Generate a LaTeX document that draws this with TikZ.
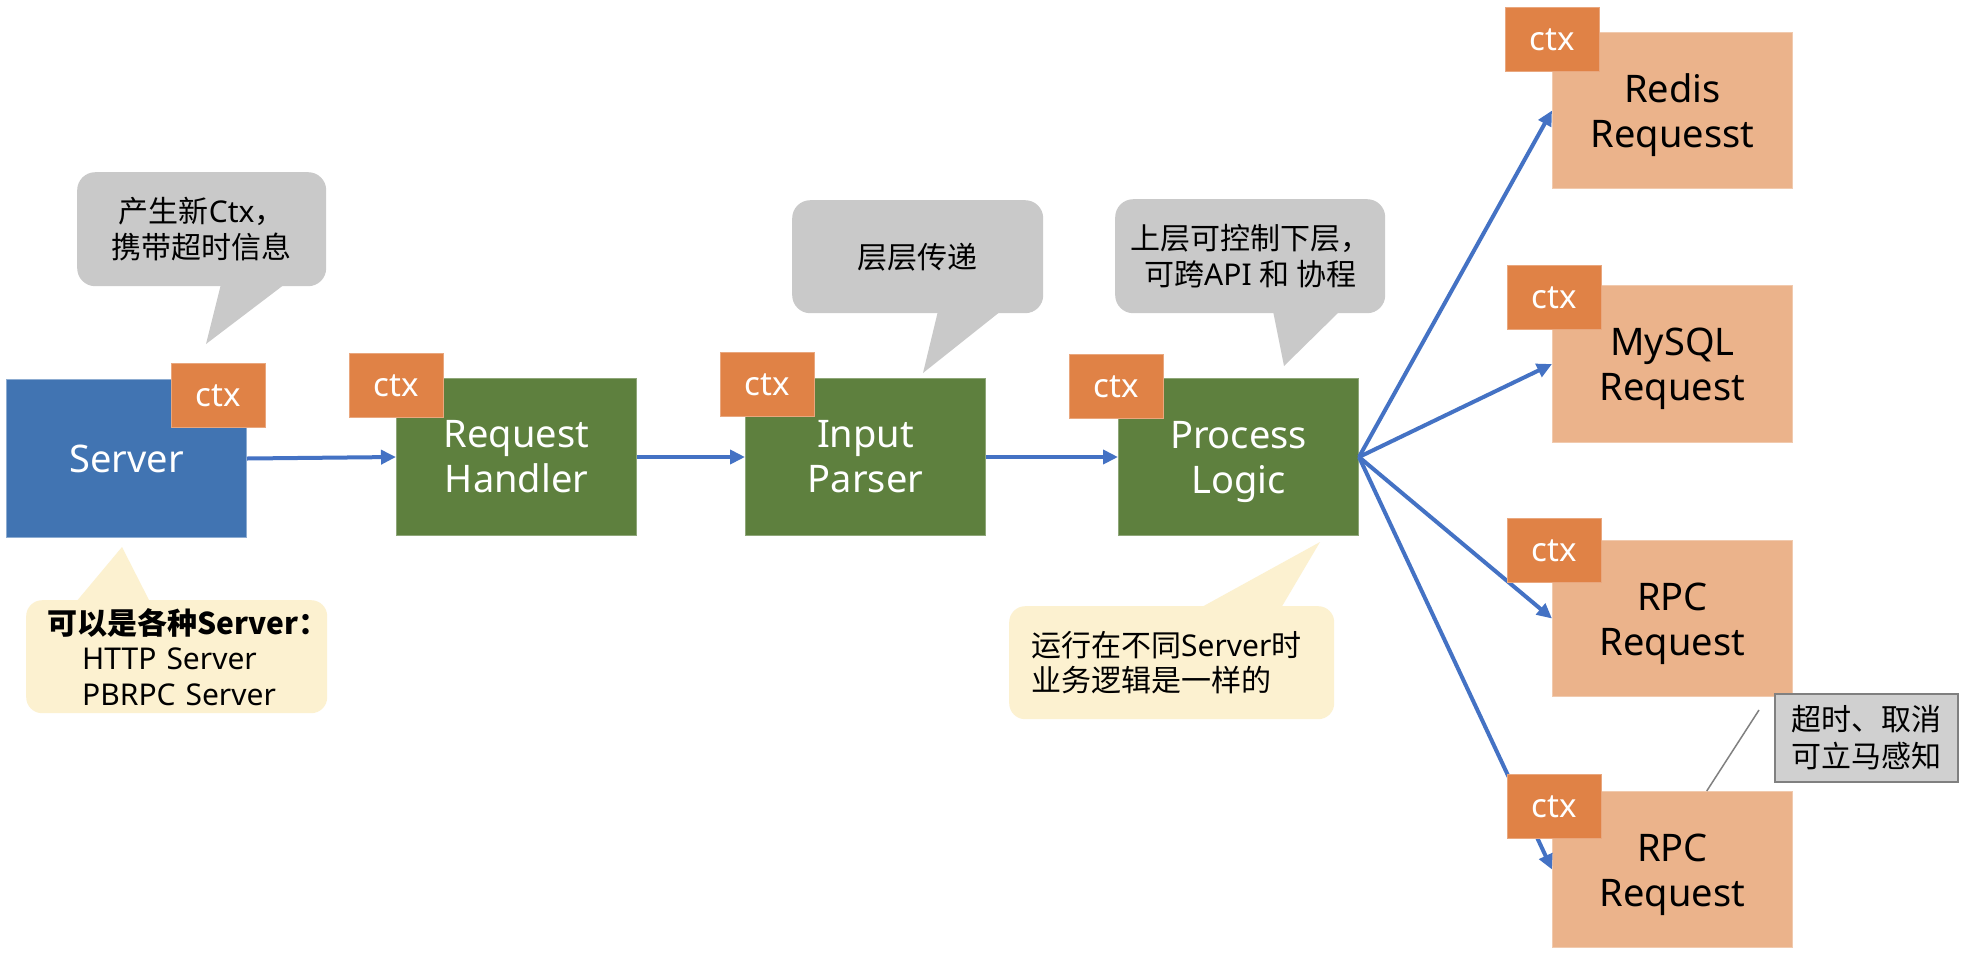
\documentclass[tikz,border=0pt]{standalone}
\usepackage{fontspec}
\setmainfont{Noto Sans}
\newfontfamily\cjk{Noto Sans CJK SC}
\usetikzlibrary{arrows.meta,calc}
\definecolor{srvblue}{RGB}{65,116,178}
\definecolor{grn}{RGB}{94,128,62}
\definecolor{ctxor}{RGB}{224,130,70}
\definecolor{peach}{RGB}{235,179,139}
\definecolor{callgray}{RGB}{201,201,201}
\definecolor{callyel}{RGB}{252,241,208}
\definecolor{arrblue}{RGB}{68,114,196}
\definecolor{notegray}{RGB}{208,208,208}
\definecolor{noteline}{RGB}{128,128,128}
\tikzset{
  box/.style={rectangle, inner sep=0pt, minimum width=240pt, minimum height=157pt,
    anchor=north west, align=center, font=\fontsize{38}{45}\selectfont},
  srvbox/.style={box, fill=srvblue, draw=srvblue!60!white, line width=1pt, text=white},
  grnbox/.style={box, fill=grn, draw=grn!70!white, line width=1pt, text=white},
  reqbox/.style={box, fill=peach, draw=peach!70!white, line width=1pt, text=black},
  ctxbox/.style={rectangle, inner sep=0pt, minimum width=94pt, minimum height=64pt,
    anchor=north west, fill=ctxor, draw=ctxor!70!white, line width=1pt, text=white,
    font=\fontsize{33}{40}\selectfont},
  flow/.style={draw=arrblue, line width=4pt, -{Triangle[length=15pt,width=14pt]}},
  graybubble/.style={rectangle, rounded corners=18pt, fill=callgray, inner sep=0pt,
    anchor=north west, align=center, font=\fontsize{30}{36}\selectfont},
  yelbubble/.style={rectangle, rounded corners=16pt, fill=callyel, inner ysep=0pt,
    anchor=north west, align=left, font=\fontsize{30}{35.5}\selectfont},
  notebox/.style={rectangle, inner sep=0pt, minimum width=183pt, minimum height=88pt,
    anchor=north west, fill=notegray, draw=noteline, line width=2pt, align=center,
    font=\fontsize{30}{37}\selectfont},
}
\newcommand{\dn}{\rule{0pt}{38pt}}
\begin{document}
\begin{tikzpicture}[x=1pt,y=-1pt]
\fill[white] (0,0) rectangle (1968,962);
\useasboundingbox (0,0) rectangle (1968,962);

% callouts
\node[graybubble, minimum width=249pt, minimum height=114pt] (g1) at (77,172)
  {{\cjk 产生新}Ctx{\cjk ，}\\{\cjk 携带超时信息}};
\fill[callgray] (221,284) -- (206,344) -- (285,284) -- cycle;

\node[graybubble, minimum width=251pt, minimum height=113pt] (g2) at (792,200)
  {{\cjk 层层传递}};
\fill[callgray] (938,311) -- (923,373) -- (1001,311) -- cycle;

\node[graybubble, minimum width=270pt, minimum height=114pt] (g3) at (1115,199)
  {{\cjk 上层可控制下层，}\\{\cjk 可跨}API {\cjk 和 协程}};
\fill[callgray] (1273,311) -- (1284,366) -- (1340,311) -- cycle;

\node[yelbubble, inner xsep=21pt, text width=259pt, minimum height=113pt] (y1) at (26,600)
  {{\bfseries\cjk 可以是各种Server：}\\
   \hspace*{35pt}HTTP Server\\
   \hspace*{35pt}PBRPC Server};
\fill[callyel] (76,602) -- (122,547) -- (150,602) -- cycle;

\node[yelbubble, inner xsep=22pt, text width=281pt, minimum height=113pt] (y2) at (1009,606)
  {{\cjk 运行在不同}Server{\cjk 时}\\{\cjk 业务逻辑是一样的}};
\fill[callyel] (1200,608) -- (1320,542) -- (1281,608) -- cycle;

% main boxes
\node[srvbox, minimum height=158pt] (server) at (6,379) {Server};
\node[grnbox] (rh) at (396,378) {Request\\Handler};
\node[grnbox] (ip) at (745,378) {Input\\Parser};
\node[grnbox] (pl) at (1118,378) {\dn Process\\Logic};

\node[reqbox, minimum height=156pt] (redis) at (1552,32) {\dn Redis\\Requesst};
\node[reqbox] (mysql) at (1552,285) {\dn MySQL\\Request};
\node[reqbox, minimum height=156pt] (rpc1) at (1552,540) {\dn RPC\\Request};
\node[reqbox, minimum height=156pt] (rpc2) at (1552,791) {\dn RPC\\Request};

% connectors
\draw[flow] (server.east) -- (rh.west);
\draw[flow] (rh.east) -- (ip.west);
\draw[flow] (ip.east) -- (pl.west);
\draw[flow] (pl.east) -- (redis.west);
\draw[flow] (pl.east) -- (mysql.west);
\draw[flow] (pl.east) -- (rpc1.west);
\draw[flow] (pl.east) -- (rpc2.west);

% ctx tags
\node[ctxbox] (c0) at (171,363) {ctx};
\node[ctxbox] (c1) at (349,353) {ctx};
\node[ctxbox] (c2) at (720,352) {ctx};
\node[ctxbox] (c3) at (1069,354) {ctx};
\node[ctxbox] (c4) at (1505,7) {ctx};
\node[ctxbox] (c5) at (1507,265) {ctx};
\node[ctxbox] (c6) at (1507,518) {ctx};
\node[ctxbox] (c7) at (1507,774) {ctx};

% note
\node[notebox] (note) at (1774,693) {{\cjk 超时、取消}\\{\cjk 可立马感知}};
\coordinate (noteend) at (1759,710);
\draw[noteline, line width=1.5pt] (noteend) -- ($(rpc2.north west)!0.642!(rpc2.north east)$);
\end{tikzpicture}
\end{document}
